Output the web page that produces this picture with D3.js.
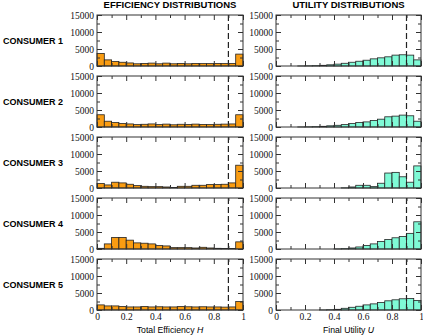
<!DOCTYPE html>
<html>
<head>
<meta charset="utf-8">
<script src="https://cdn.jsdelivr.net/npm/d3@7"></script>
<style>
  body { margin: 0; background: #fff; }
  svg { display: block; }
</style>
</head>
<body>
<svg id="chart" width="423" height="335"></svg>
<script>
// histogram counts, 20 bins of width 0.05 on [0,1]
const consumers = ["CONSUMER 1", "CONSUMER 2", "CONSUMER 3", "CONSUMER 4", "CONSUMER 5"];

const eff1 = [3700, 1800, 1300, 1100, 900, 650, 750, 850, 650, 850, 650, 750, 650, 750, 700, 700, 750, 700, 750, 3500];
const eff2 = [3600, 1700, 1300, 1000, 900, 700, 800, 900, 700, 850, 650, 800, 750, 850, 750, 700, 800, 850, 900, 3600];
const eff3 = [1300, 900, 1700, 1500, 1100, 700, 500, 400, 400, 300, 150, 500, 500, 800, 800, 1000, 1000, 1100, 1500, 6700];
const eff4 = [200, 1500, 3400, 3400, 2600, 1800, 1700, 1500, 1000, 900, 400, 400, 400, 300, 500, 300, 200, 150, 150, 2100];
const eff5 = [1500, 1200, 1200, 1000, 900, 900, 1000, 900, 950, 900, 900, 1000, 950, 900, 950, 900, 900, 850, 900, 2500];

const util1 = [0, 0, 0, 20, 50, 100, 200, 350, 550, 800, 1100, 1400, 1700, 2100, 2400, 2700, 3200, 3300, 3200, 1800];
const util2 = [0, 0, 0, 20, 50, 100, 200, 350, 500, 700, 1000, 1300, 1500, 1900, 2300, 3000, 3200, 3500, 3300, 1700];
const util3 = [0, 0, 0, 0, 0, 0, 0, 0, 0, 50, 300, 800, 800, 400, 1400, 4400, 4600, 3300, 1700, 6500];
const util4 = [0, 0, 0, 0, 0, 0, 0, 0, 30, 100, 300, 600, 1000, 1500, 2200, 2800, 3300, 3700, 4600, 8000];
const util5 = [0, 0, 0, 0, 0, 0, 20, 80, 200, 500, 800, 1100, 1500, 1800, 2200, 2700, 3000, 3300, 3400, 2800];

const effData = [eff1, eff2, eff3, eff4, eff5];
const utilData = [util1, util2, util3, util4, util5];

const binWidth = 0.05;
const thresholdX = 0.9;
const yTicks = [0, 5000, 10000, 15000];
const yMinorTicks = [2500, 7500, 12500];
const xTicks = [0, 0.2, 0.4, 0.6, 0.8, 1];
const xMinorTicks = [0.1, 0.3, 0.5, 0.7, 0.9];

const svg = d3.select("#chart");

const cols = [
  { x0: 97, x1: 243, data: effData, fill: "#F99C12", title: "EFFICIENCY DISTRIBUTIONS", label: "Total Efficiency ", italic: "H" },
  { x0: 276, x1: 421, data: utilData, fill: "#7FFAD6", title: "UTILITY DISTRIBUTIONS", label: "Final Utility ", italic: "U" }
];

const rowTop = i => 15 + i * 61;
const panelH = 51;

cols.forEach(col => {
  const x = d3.scaleLinear().domain([0, 1]).range([col.x0, col.x1]);

  svg.append("text")
    .attr("x", (col.x0 + col.x1) / 2)
    .attr("y", 8)
    .attr("text-anchor", "middle")
    .style("font-family", "Liberation Sans, Arial, sans-serif")
    .style("font-weight", "bold")
    .style("font-size", "9.5px")
    .text(col.title);

  col.data.forEach((counts, i) => {
    const top = rowTop(i);
    const y = d3.scaleLinear().domain([0, 15000]).range([top + panelH, top]);
    const g = svg.append("g");

    // bars
    g.selectAll("rect.bar")
      .data(counts)
      .enter().append("rect")
      .attr("class", "bar")
      .attr("x", (d, k) => x(k * binWidth))
      .attr("width", x(binWidth) - x(0))
      .attr("y", d => y(d))
      .attr("height", d => y(0) - y(d))
      .attr("fill", col.fill)
      .attr("stroke", "#222")
      .attr("stroke-width", 0.8);

    // threshold line
    g.append("line")
      .attr("x1", x(thresholdX)).attr("x2", x(thresholdX))
      .attr("y1", top).attr("y2", top + panelH)
      .attr("stroke", "#222")
      .attr("stroke-width", 1.2)
      .attr("stroke-dasharray", "6,3");

    // axes with inward ticks
    const addAxis = (axis, transform, showText) => {
      const a = g.append("g").attr("transform", transform).call(axis);
      a.select(".domain").remove();
      a.selectAll("line").attr("stroke", "#333").attr("stroke-width", 1);
      a.selectAll("text")
        .style("font-family", "Liberation Serif, Times New Roman, serif")
        .style("font-size", "9.5px")
        .attr("fill", "#111");
      if (!showText) a.selectAll("text").remove();
      return a;
    };

    addAxis(d3.axisLeft(y).tickValues(yTicks).tickSize(-5).tickPadding(3).tickFormat(d3.format("d")),
      `translate(${col.x0},0)`, true);
    addAxis(d3.axisLeft(y).tickValues(yMinorTicks).tickSize(-3).tickFormat(""), `translate(${col.x0},0)`, false);
    addAxis(d3.axisRight(y).tickValues(yTicks).tickSize(-5).tickFormat(""), `translate(${col.x1},0)`, false);
    addAxis(d3.axisRight(y).tickValues(yMinorTicks).tickSize(-3).tickFormat(""), `translate(${col.x1},0)`, false);

    addAxis(d3.axisTop(x).tickValues(xTicks).tickSize(-5).tickFormat(""), `translate(0,${top})`, false);
    addAxis(d3.axisTop(x).tickValues(xMinorTicks).tickSize(-3).tickFormat(""), `translate(0,${top})`, false);
    addAxis(d3.axisBottom(x).tickValues(xTicks).tickSize(-5).tickPadding(3).tickFormat(d => d === 0 || d === 1 ? d : d.toFixed(1)),
      `translate(0,${top + panelH})`, i === 4);
    addAxis(d3.axisBottom(x).tickValues(xMinorTicks).tickSize(-3).tickFormat(""), `translate(0,${top + panelH})`, false);

    // frame
    g.append("rect")
      .attr("x", col.x0).attr("y", top)
      .attr("width", col.x1 - col.x0).attr("height", panelH)
      .attr("fill", "none")
      .attr("stroke", "#333")
      .attr("stroke-width", 1);

    if (col.x0 < 200) {
      svg.append("text")
        .attr("x", 3)
        .attr("y", top + panelH / 2 + 3)
        .style("font-family", "Liberation Sans, Arial, sans-serif")
        .style("font-weight", "bold")
        .style("font-size", "9px")
        .text(consumers[i]);
    }
  });

  const t = svg.append("text")
    .attr("x", (col.x0 + col.x1) / 2)
    .attr("y", 333)
    .attr("text-anchor", "middle")
    .style("font-family", "Liberation Sans, Arial, sans-serif")
    .style("font-size", "8.7px");
  t.append("tspan").text(col.label);
  t.append("tspan").style("font-style", "italic").text(col.italic);
});
</script>
</body>
</html>
